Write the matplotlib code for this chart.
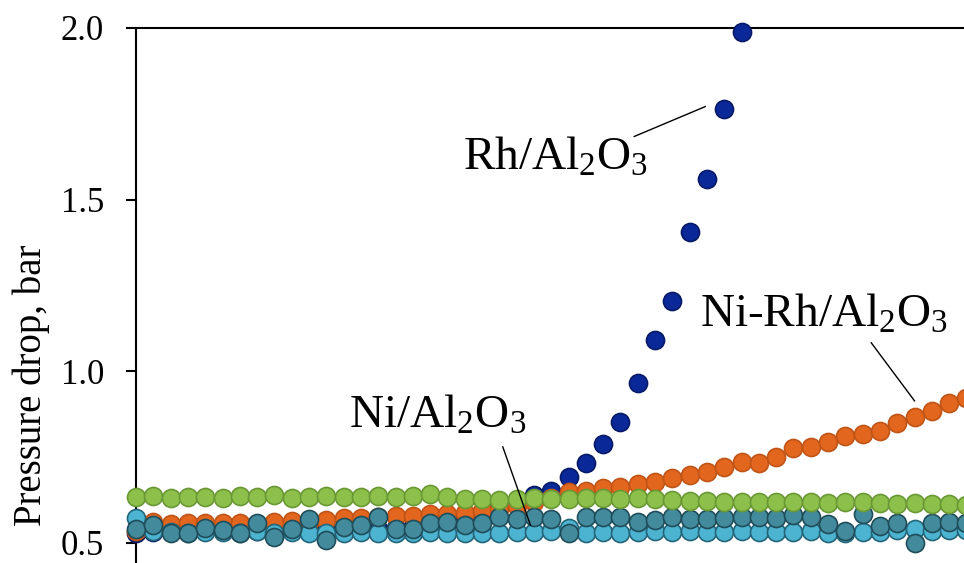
import numpy as np
import matplotlib.pyplot as plt

plt.rcParams['font.family'] = ['Liberation Serif', 'DejaVu Serif']
plt.rcParams['mathtext.default'] = 'regular'

# pressure drop (bar) per sample, one point every sampling step
rh = [0.530, 0.533, 0.535, 0.533, 0.535, 0.534, 0.533, 0.536, 0.538, 0.534,
      0.536, 0.537, 0.540, 0.540, 0.542, 0.545, 0.548, 0.550, 0.555,
      0.575, 0.590, 0.605, 0.620, 0.640, 0.652, 0.692, 0.733, 0.789,
      0.853, 0.966, 1.092, 1.206, 1.407, 1.561, 1.765, 1.987]

nirh = [0.535, 0.560, 0.555, 0.557, 0.557, 0.557, 0.558, 0.555, 0.560, 0.565,
        0.562, 0.568, 0.572, 0.572, 0.575, 0.578, 0.580, 0.583, 0.585, 0.588,
        0.592, 0.598, 0.608, 0.620, 0.630, 0.649, 0.652, 0.660, 0.663, 0.672,
        0.678, 0.690, 0.698, 0.707, 0.722, 0.736, 0.733, 0.751, 0.777, 0.780,
        0.794, 0.812, 0.818, 0.827, 0.850, 0.867, 0.885, 0.908, 0.923]

green = [0.635, 0.637, 0.630, 0.635, 0.635, 0.632, 0.637, 0.635, 0.639, 0.630,
         0.634, 0.637, 0.635, 0.633, 0.637, 0.635, 0.637, 0.643, 0.635, 0.627,
         0.627, 0.625, 0.628, 0.630, 0.628, 0.628, 0.630, 0.630, 0.628, 0.630,
         0.628, 0.625, 0.623, 0.622, 0.620, 0.620, 0.620, 0.618, 0.620, 0.618,
         0.616, 0.618, 0.618, 0.616, 0.615, 0.616, 0.614, 0.613, 0.612]

cyan = [0.572, 0.535, 0.532, 0.530, 0.533, 0.532, 0.530, 0.534, 0.530, 0.532,
        0.530, 0.528, 0.530, 0.532, 0.530, 0.528, 0.530, 0.532, 0.530, 0.530,
        0.528, 0.530, 0.532, 0.532, 0.535, 0.545, 0.530, 0.532, 0.530, 0.532,
        0.535, 0.532, 0.535, 0.532, 0.532, 0.535, 0.532, 0.532, 0.532, 0.535,
        0.530, 0.528, 0.532, 0.532, 0.538, 0.541, 0.535, 0.538, 0.538]

ni = [0.540, 0.552, 0.530, 0.528, 0.543, 0.538, 0.530, 0.559, 0.518, 0.541,
      0.569, 0.509, 0.548, 0.552, 0.575, 0.540, 0.540, 0.559, 0.562, 0.552,
      0.557, 0.577, 0.569, 0.575, 0.569, 0.528, 0.577, 0.577, 0.577, 0.562,
      0.567, 0.575, 0.569, 0.569, 0.572, 0.577, 0.575, 0.572, 0.582,
      0.577, 0.555, 0.536, 0.585, 0.550, 0.559, 0.501, 0.559, 0.562, 0.557]

yticks = [0.5, 1.0, 1.5, 2.0]
ytick_labels = ['0.5', '1.0', '1.5', '2.0']

fig = plt.figure(figsize=(9.64, 5.63), dpi=100)
ax = fig.add_axes([0.1411, 0.0, 0.8589, 0.9503])

# series drawn bottom to top
series = [
    (rh, '#0b2899', '#061a66'),
    (nirh, '#e2661e', '#c05416'),
    (cyan, '#4cb4d0', '#24657a'),
    (ni, '#438a9c', '#1f4d5a'),
    (green, '#8cc04b', '#6a9835'),
]
for z, (vals, fc, ec) in enumerate(series):
    ax.plot(np.arange(len(vals)), vals, 'o', ms=13, mfc=fc, mec=ec, mew=1.2,
            ls='none', zorder=3 + z, clip_on=False)

# labels with leader lines
ax.text(18.9, 1.587, 'Rh/Al$_2$O$_3$', fontsize=34, ha='left', va='baseline')
ax.plot([28.8, 32.9], [1.684, 1.771], color='black', lw=1)

ax.text(32.6, 1.130, 'Ni-Rh/Al$_2$O$_3$', fontsize=34, ha='left', va='baseline')
ax.plot([42.5, 45.0], [1.083, 0.914], color='black', lw=1)

ax.text(12.3, 0.835, 'Ni/Al$_2$O$_3$', fontsize=34, ha='left', va='baseline')
ax.plot([21.2, 22.8], [0.780, 0.552], color='black', lw=1, zorder=20)

ax.set_xlim(0, 47.86)
ax.set_ylim(0.4417, 2.0)
ax.set_yticks(yticks)
ax.set_yticklabels(ytick_labels)
ax.set_xticks([])
ax.tick_params(axis='y', direction='out', length=7, width=1.5, pad=16,
               labelsize=25)

for side in ['bottom', 'right']:
    ax.spines[side].set_visible(False)
ax.spines['left'].set_linewidth(1.5)
ax.spines['top'].set_linewidth(1.5)

ax.set_ylabel('Pressure drop, bar', fontsize=28)
ax.yaxis.set_label_coords(-0.104, 0.333)

fig.savefig('out.png', dpi=100)
